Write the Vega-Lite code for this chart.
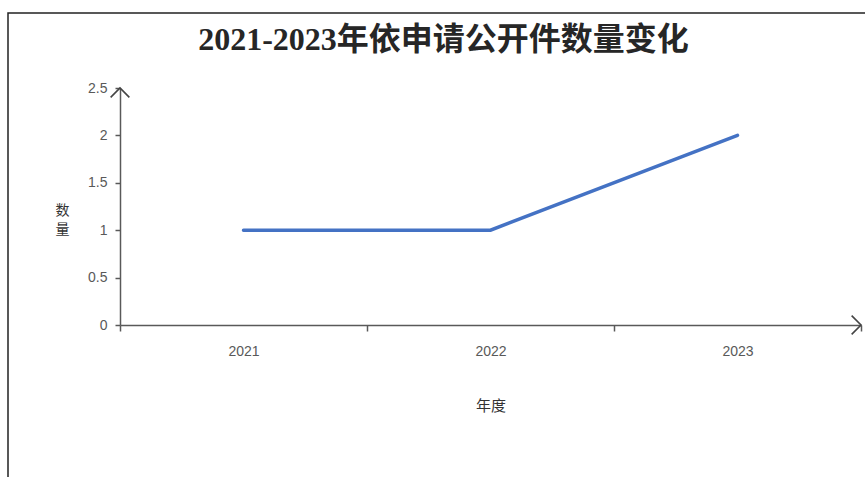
{
  "$schema": "https://vega.github.io/schema/vega-lite/v6.json",
  "autosize": "none",
  "padding": {"left": 8, "top": 13, "right": 0, "bottom": 0},
  "width": 859,
  "height": 466,
  "background": "white",
  "config": {
    "view": {"stroke": "#222222", "strokeWidth": 1.5}
  },
  "title": {
    "text": "2021-2023年依申请公开件数量变化",
    "font": "Liberation Serif, Noto Sans CJK SC",
    "fontSize": 32,
    "fontWeight": "bold",
    "color": "#262626",
    "anchor": "middle",
    "dx": 6,
    "baseline": "bottom",
    "offset": -76
  },
  "datasets": {
    "counts": [
      {"year": "2021", "count": 1},
      {"year": "2022", "count": 1},
      {"year": "2023", "count": 2}
    ],
    "arrows": [
      {"year": "2021", "count": 2.5, "dir": "up"},
      {"year": "2023", "count": 0, "dir": "right"}
    ]
  },
  "layer": [
    {
      "data": {"name": "counts"},
      "mark": {"type": "line", "color": "#4472C4", "strokeWidth": 3.5, "strokeCap": "round"},
      "encoding": {
        "x": {
          "field": "year",
          "type": "ordinal",
          "scale": {"type": "band", "range": [112, 853], "paddingInner": 0, "paddingOuter": 0},
          "axis": {
            "title": "年度",
            "titleFont": "Noto Sans CJK SC",
            "titleFontSize": 15,
            "titleFontWeight": "normal",
            "titleColor": "#333333",
            "titlePadding": 40,
            "offset": -154,
            "labelAngle": 0,
            "labelFont": "Liberation Sans",
            "labelFontSize": 14,
            "labelColor": "#595959",
            "labelPadding": 13,
            "domainColor": "#595959",
            "domainWidth": 1.5,
            "tickColor": "#595959",
            "tickWidth": 1.5,
            "tickSize": 6,
            "tickBand": "extent",
            "grid": false
          }
        },
        "y": {
          "field": "count",
          "type": "quantitative",
          "scale": {"domain": [0, 2.5], "range": [312, 75], "nice": false, "zero": true},
          "axis": {
            "title": ["数", "量"],
            "titleAngle": 0,
            "titleFont": "Noto Sans CJK SC",
            "titleFontSize": 14,
            "titleFontWeight": "normal",
            "titleColor": "#333333",
            "titleAlign": "center",
            "titleBaseline": "middle",
            "titleLineHeight": 19,
            "titleX": -58,
            "titleY": 197,
            "offset": -112,
            "values": [0, 0.5, 1, 1.5, 2, 2.5],
            "format": "~g",
            "labelFont": "Liberation Sans",
            "labelFontSize": 14,
            "labelColor": "#595959",
            "labelPadding": 8,
            "domainColor": "#595959",
            "domainWidth": 1.5,
            "tickColor": "#595959",
            "tickWidth": 1.5,
            "tickSize": 5,
            "grid": false
          }
        }
      }
    },
    {
      "data": {"name": "arrows"},
      "transform": [{"filter": "datum.dir == 'up'"}],
      "mark": {"type": "point", "shape": "M-1,1L0,0L1,1", "size": 350, "filled": false, "stroke": "#444444", "strokeWidth": 1.6, "opacity": 1},
      "encoding": {
        "x": {"field": "year", "type": "ordinal", "bandPosition": 0},
        "y": {"field": "count", "type": "quantitative"}
      }
    },
    {
      "data": {"name": "arrows"},
      "transform": [{"filter": "datum.dir == 'right'"}],
      "mark": {"type": "point", "shape": "M-1,-1L0,0L-1,1", "size": 350, "filled": false, "stroke": "#444444", "strokeWidth": 1.6, "opacity": 1},
      "encoding": {
        "x": {"field": "year", "type": "ordinal", "bandPosition": 1},
        "y": {"field": "count", "type": "quantitative"}
      }
    }
  ]
}
